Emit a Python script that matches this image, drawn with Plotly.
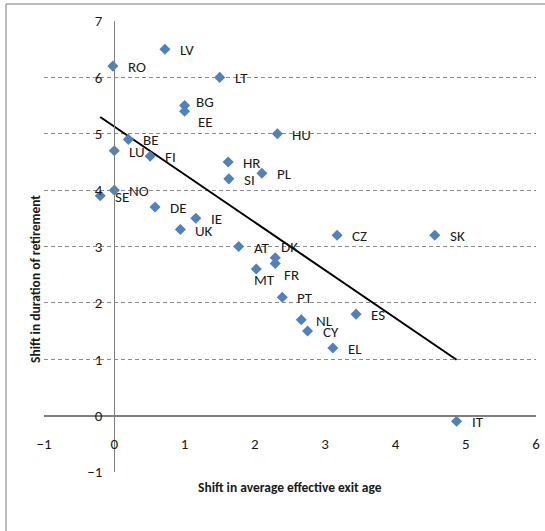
import numpy as np
import plotly.graph_objects as go

# ---- data ----
countries = ["RO", "LV", "LT", "BG", "EE", "BE", "LU", "FI", "HU", "HR", "SI", "PL",
             "NO", "SE", "DE", "IE", "UK", "AT", "CZ", "SK", "DK", "FR", "MT", "PT",
             "NL", "CY", "ES", "EL", "IT"]
exit_age_shift = [-0.02, 0.72, 1.50, 1.00, 1.00, 0.20, 0.00, 0.51, 2.32, 1.62, 1.63, 2.10,
                  0.00, -0.20, 0.58, 1.16, 0.94, 1.77, 3.17, 4.56, 2.29, 2.29, 2.02, 2.39,
                  2.66, 2.75, 3.44, 3.11, 4.87]
retirement_shift = [6.2, 6.5, 6.0, 5.5, 5.4, 4.9, 4.7, 4.6, 5.0, 4.5, 4.2, 4.3,
                    4.0, 3.9, 3.7, 3.5, 3.3, 3.0, 3.2, 3.2, 2.8, 2.7, 2.6, 2.1,
                    1.7, 1.5, 1.8, 1.2, -0.1]
x_ticks = [-1, 0, 1, 2, 3, 4, 5, 6]
y_ticks = [-1, 0, 1, 2, 3, 4, 5, 6, 7]
x_title = "Shift in average effective exit age"
y_title = "Shift in duration of retirement"

# label offsets (px) -- styling only
default_offset = (13, -1)
label_offsets = {"BG": (9, 4), "EE": (11, -11), "DK": (4, 11), "FR": (7, -12), "MT": (-4, -11)}

# ---- layout constants ----
W, H = 545, 531
ML, MR, MT_, MB = 44, 9, 21, 59
PW, PH = W - ML - MR, H - MT_ - MB

FONT = "Carlito, Liberation Sans Narrow, Arial Narrow, Liberation Sans, sans-serif"
BLUE = "#4F81BD"
GRID = "#8c8c8c"
TXT = "#1a1a1a"

fig = go.Figure()

# trend line (least squares on the data)
xs = np.array(exit_age_shift)
ys = np.array(retirement_shift)
slope, intercept = np.polyfit(xs, ys, 1)
tx = np.array([xs.min(), xs.max()])
fig.add_trace(go.Scatter(x=tx, y=slope * tx + intercept, mode="lines",
                         line=dict(color="black", width=2), hoverinfo="skip",
                         showlegend=False))

fig.add_trace(go.Scatter(x=exit_age_shift, y=retirement_shift, mode="markers",
                         marker=dict(symbol="diamond", size=8.5, color=BLUE, line=dict(width=0)),
                         text=countries, showlegend=False))

for c, xv, yv in zip(countries, exit_age_shift, retirement_shift):
    dx, dy = label_offsets.get(c, default_offset)
    fig.add_annotation(x=xv, y=yv, xref="x", yref="y", text=c, showarrow=False,
                       xanchor="left", yanchor="middle", xshift=dx, yshift=dy,
                       font=dict(family=FONT, size=15, color=TXT))

# axis titles
fig.add_annotation(x=0.5, y=(H - MB - 487) / PH, xref="paper", yref="paper",
                   text="<b>" + x_title + "</b>", showarrow=False,
                   xanchor="center", yanchor="middle",
                   font=dict(family=FONT, size=13.5, color=TXT))
fig.add_annotation(x=(35 - ML) / PW, y=(H - MB - 247) / PH, xref="paper", yref="paper",
                   text="<b>" + y_title + "</b>", showarrow=False, textangle=-90,
                   xanchor="center", yanchor="middle", yshift=-32,
                   font=dict(family=FONT, size=13.5, color=TXT))

# outer chart frame (left and top edges visible)
fx0 = (6 - ML) / PW
fy_top = (H - MB - 4) / PH
fig.add_shape(type="line", xref="paper", yref="paper", x0=fx0, x1=fx0,
              y0=fy_top, y1=-(MB + 5) / PH, line=dict(color="#a6a6a6", width=1.5))
fig.add_shape(type="line", xref="paper", yref="paper", x0=fx0, x1=(W - ML + 5) / PW,
              y0=fy_top, y1=fy_top, line=dict(color="#a6a6a6", width=1.5))

fig.update_layout(
    template="none",
    width=W, height=H,
    margin=dict(l=ML, r=MR, t=MT_, b=MB, autoexpand=False),
    paper_bgcolor="white", plot_bgcolor="white",
    font=dict(family=FONT, size=15, color=TXT),
    xaxis=dict(range=[-1, 6], tickvals=x_ticks, showgrid=False, zeroline=False,
               anchor="free", position=1 / 8, showline=True, linecolor="#7f7f7f",
               linewidth=2, ticks="", ticklabelstandoff=14, automargin=False,
               tickfont=dict(family=FONT, size=15, color=TXT)),
    yaxis=dict(range=[-1, 7], tickvals=y_ticks, showgrid=True, gridcolor=GRID,
               griddash="4px,3px", gridwidth=1, zeroline=False,
               anchor="free", position=1 / 7, showline=True, linecolor="#7f7f7f",
               linewidth=1, ticks="", ticklabelstandoff=9, automargin=False,
               tickfont=dict(family=FONT, size=15, color=TXT)),
)

fig.write_html("out.html", config={"displayModeBar": False},
               post_script="document.body.style.margin='0';document.body.style.padding='0';"
                           "document.documentElement.style.overflow='hidden';")
